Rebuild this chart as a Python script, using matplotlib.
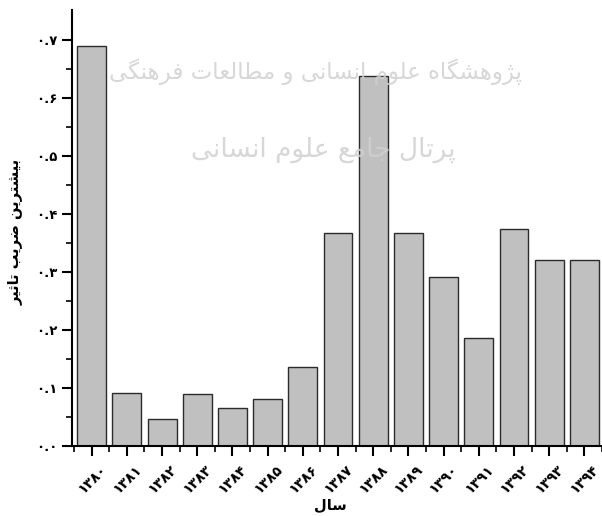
import matplotlib
matplotlib.use('Agg')
import matplotlib.pyplot as plt
import numpy as np

# سال ها (ارقام فارسی)
years = ['۱۳۸۰', '۱۳۸۱', '۱۳۸۲', '۱۳۸۳', '۱۳۸۴', '۱۳۸۵', '۱۳۸۶', '۱۳۸۷',
         '۱۳۸۸', '۱۳۸۹', '۱۳۹۰', '۱۳۹۱', '۱۳۹۲', '۱۳۹۳', '۱۳۹۴']
values = [0.689, 0.092, 0.046, 0.090, 0.065, 0.081, 0.136, 0.367,
          0.638, 0.367, 0.291, 0.187, 0.374, 0.321, 0.320]
yticks = [0.0, 0.1, 0.2, 0.3, 0.4, 0.5, 0.6, 0.7]
ytick_labels = ['۰.۰', '۰.۱', '۰.۲', '۰.۳', '۰.۴', '۰.۵', '۰.۶', '۰.۷']

# matplotlib does no arabic shaping, so the labels are written with
# presentation forms in logical order and reversed for display
xlabel_txt = '\uFEB3\uFE8E\uFEDD'  # سال
ylabel_txt = ('\uFE91\uFEF4\uFEB8\uFE98\uFEAE\uFEF3\uFEE6 '      # بیشترین
              '\uFEBF\uFEAE\uFEF3\uFE90 '                        # ضریب
              '\uFE97\uFE8E\uFE9B\uFEF4\uFEAE')                  # تاثیر
wm_line1 = ('\uFB58\uFB8B\uFEED\uFEEB\uFEB8\uFB95\uFE8E\uFEE9 '  # پژوهشگاه
            '\uFECB\uFEE0\uFEEE\uFEE1 '                          # علوم
            '\uFE8D\uFEE7\uFEB4\uFE8E\uFEE7\uFEF0 '              # انسانی
            '\uFEED '                                            # و
            '\uFEE3\uFEC4\uFE8E\uFEDF\uFECC\uFE8E\uFE95 '        # مطالعات
            '\uFED3\uFEAE\uFEEB\uFEE8\uFB95\uFEF0')              # فرهنگی
wm_line2 = ('\uFB58\uFEAE\uFE97\uFE8E\uFEDD '                    # پرتال
            '\uFE9F\uFE8E\uFEE3\uFECA '                          # جامع
            '\uFECB\uFEE0\uFEEE\uFEE1 '                          # علوم
            '\uFE8D\uFEE7\uFEB4\uFE8E\uFEE7\uFEF0')              # انسانی


def vis(s):
    return s[::-1]


fig = plt.figure(figsize=(6.02, 5.16), dpi=100)
ax = fig.add_axes([72 / 602, 70 / 516, 530 / 602, 436 / 516])

x = np.arange(len(years))
ax.bar(x, values, width=0.82, color='#c0c0c0', edgecolor='#2b2b2b', linewidth=1.0, zorder=2)

ax.set_xlim(-0.56, 14.28)
ax.set_ylim(0, 0.7517)

ax.spines['top'].set_visible(False)
ax.spines['right'].set_visible(False)
ax.spines['left'].set_linewidth(1.5)
ax.spines['bottom'].set_linewidth(1.5)

ax.set_yticks(yticks)
ax.set_yticklabels(ytick_labels, fontsize=9.5, fontweight='bold')
ax.set_yticks(np.arange(0.05, 0.75, 0.1), minor=True)
ax.set_xticks(x)
ax.set_xticklabels(years, rotation=45, ha='center', fontsize=10, fontweight='bold')
ax.set_xticks(np.arange(-0.5, 14.6, 1.0), minor=True)
ax.tick_params(which='major', length=7, width=1.5, direction='out')
ax.tick_params(which='minor', length=4, width=1.2, direction='out')
ax.tick_params(axis='x', which='major', pad=5)

fig.text(330 / 602, 1 - 505 / 516, vis(xlabel_txt), ha='center', va='center',
         fontsize=10.5, fontweight='bold')
fig.text(15 / 602, 1 - 232 / 516, vis(ylabel_txt), ha='center', va='center',
         rotation=90, fontsize=10.5, fontweight='bold')

# watermark
fig.text(315 / 602, 1 - 72 / 516, vis(wm_line1), ha='center', va='center',
         fontsize=16.5, color='#d0d0d0', alpha=0.85)
fig.text(323 / 602, 1 - 150 / 516, vis(wm_line2), ha='center', va='center',
         fontsize=19, color='#d0d0d0', alpha=0.85)

fig.savefig('out.png', dpi=100)
